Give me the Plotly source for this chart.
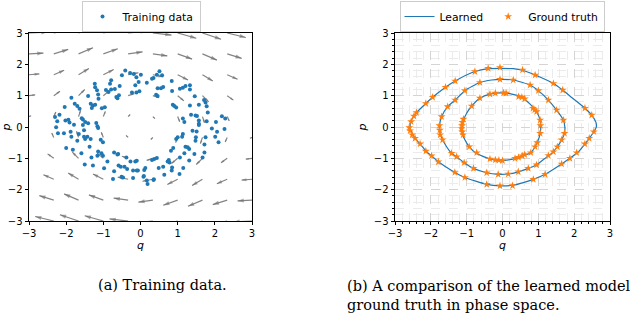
import numpy as np
import plotly.graph_objects as go

# ---------------- data ----------------
# Training data (phase-space samples)
train_q = [-0.41, -0.50, -0.28, -0.18, -0.11, -0.14, -0.23, -0.11, -0.56, -0.79, -0.82, -0.79, -0.86, -0.65, -0.58,
           -1.23, -1.22, -1.17, -1.14, -1.13, -1.34, -1.28, -1.22, -1.31, -1.41, -1.86, -1.77, -1.70, -1.64, -2.04,
           -2.18, -2.24, -2.02, -1.91, -1.79, -1.55, -1.49, -1.41, -1.19, -1.16, -2.30, -1.94, -1.58, -1.04, -0.96,
           -0.93, -0.69, -0.62,
           0.51, 0.44, 0.35, 0.31, 0.01, -0.05, 0.17, 0.58, 0.84, 0.61, 0.55, 0.46, 0.85, 1.06, 1.14, 1.21, 1.33,
           1.33, -0.03, 0.42, 0.46, 0.87, 0.91, 0.96, 1.33, 1.46, 1.57, 1.75, 1.78, 1.81, 1.36, 1.48, 1.52, 1.57,
           1.57, 1.78, 2.03, 2.19, 2.28, 1.14, 1.18, 1.71, 2.06,
           -2.27, -2.22, -2.06, -1.86, -2.00, -1.82, -1.70, -1.66, -1.52, -1.52, -1.49, -1.43, -1.34, -1.37, -1.59,
           -1.32, -1.16, -1.14, -1.05, -1.01, -1.07, -1.01, -1.14, -1.55, -1.50, -1.28, -0.89, -0.71, -0.62, -0.38,
           -0.27, -0.14, -0.36, -0.53, -0.59, -0.43, -0.71, -0.20, -0.07, -0.74, -0.47, -0.20, -1.88, -0.98, -0.51,
           -0.60, -0.10,
           1.57, 1.40, 1.51, 1.49, 1.48, 1.75, 1.92, 2.26, 2.01, 2.10, 1.72, 1.72, 1.67, 1.45, 1.31, 1.27, 1.21, 1.18,
           1.06, 0.88, 0.82, 1.14, 1.12, 1.00, 0.96, 0.76, 0.78, 0.73, 0.85, 1.15, 1.05, 1.31, 0.44, 0.37, 0.31, 0.61,
           0.49, 0.64, 0.13, 0.10, 0.08, 0.17, 0.19, 0.35, -0.10, 0.09, 0.36, 0.84]
train_p = [1.80, 1.65, 1.72, 1.69, 1.59, 1.33, 1.10, 1.10, 1.31, 1.49, 1.38, 1.20, 1.12, 0.96, 1.01,
           1.38, 1.27, 1.17, 1.04, 0.90, 0.74, 0.69, 0.71, 0.61, 0.99, 0.93, 0.74, 0.67, 0.58, 0.64,
           0.39, 0.18, 0.21, 0.14, 0.07, 0.24, 0.16, 0.12, 0.13, 0.02, 0.32, 0.23, 0.28, 0.60, 0.63,
           1.18, 1.21, 0.92,
           1.78, 1.67, 1.56, 1.54, 1.67, 1.44, 1.41, 1.65, 1.47, 1.28, 1.24, 1.24, 1.15, 1.22, 1.25, 1.31, 1.33,
           1.20, 1.14, 1.03, 0.99, 0.71, 0.67, 0.62, 0.69, 0.98, 0.71, 0.78, 0.66, 0.46, 0.39, 0.37, 0.35, 0.21,
           0.10, 0.18, 0.16, 0.34, 0.27, 0.27, 0.16, 0.86, -0.15,
           -0.01, -0.20, -0.20, -0.31, -0.67, -0.73, -0.44, -0.22, -0.10, -0.31, -0.38, -0.31, -0.38, -0.63, -0.84,
           -0.97, -0.92, -0.78, -0.84, -0.92, -0.41, -0.49, -0.03, 0.06, -1.20, -1.23, -1.10, -0.81, -0.88, -0.97,
           -1.10, -1.10, -1.34, -1.27, -1.23, -1.27, -1.41, -1.39, -1.39, -1.66, -1.61, -1.63, -0.15, -1.32, -1.59,
           -0.86, -1.08,
           0.06, -0.12, -0.14, -0.33, -0.44, -0.33, -0.05, -0.06, -0.31, -0.49, -0.56, -0.81, -0.97, -0.86, -0.70,
           -0.65, -0.63, -0.84, -0.97, -0.67, -0.76, -0.22, -0.31, -0.33, -0.38, -1.05, -1.13, -1.10, -1.29, -1.31,
           -1.50, -1.07, -0.99, -1.02, -1.05, -1.27, -1.31, -1.52, -1.31, -1.37, -1.59, -1.71, -1.82, -1.69, -1.39,
           -1.56, -1.67, -1.39]

# Vector field (quiver) sampled on a grid
grid_q = [-3.0, -2.333, -1.667, -1.0, -0.333, 0.333, 1.0, 1.667, 2.333, 3.0]
grid_p = [-3.0, -2.333, -1.667, -1.0, -0.333, 0.333, 1.0, 1.667, 2.333, 3.0]
arrow_dq_by_row = [-3.0, -2.33, -1.67, -1.0, -0.33, 0.33, 1.0, 1.67, 2.33, 3.0]
arrow_dp_by_col = [0.14, 0.72, 1.0, 0.84, 0.33, -0.33, -0.84, -1.0, -0.72, -0.14]

# Learned trajectories (closed orbits)
outer_q = [-2.58, -2.56, -2.47, -2.40, -2.14, -1.95, -1.59, -1.32, -0.77, -0.40, -0.05, 0.30, 0.56, 0.91, 1.42,
           1.68, 1.88, 2.30, 2.49, 2.61, 2.62, 2.55, 2.42, 2.30, 2.12, 1.88, 1.65, 1.19, 0.86, 0.28, -0.07,
           -0.44, -1.05, -1.33, -1.79, -1.98, -2.12, -2.30, -2.44, -2.56, -2.58]
outer_p = [0.0, 0.17, 0.35, 0.46, 0.75, 0.95, 1.27, 1.47, 1.77, 1.86, 1.87, 1.86, 1.81, 1.66, 1.39,
           1.18, 0.99, 0.60, 0.38, 0.14, 0.0, -0.15, -0.36, -0.54, -0.79, -1.00, -1.18, -1.51, -1.67, -1.86, -1.88,
           -1.83, -1.61, -1.45, -1.11, -0.92, -0.79, -0.54, -0.36, -0.10, 0.0]
middle_q = [-1.76, -1.70, -1.53, -1.32, -1.05, -0.63, -0.30, -0.05, 0.30, 0.77, 1.00, 1.28, 1.51, 1.70, 1.74,
            1.73, 1.65, 1.53, 1.37, 1.22, 0.95, 0.72, 0.44, 0.16, -0.12, -0.44, -0.81, -1.07, -1.28, -1.42, -1.56,
            -1.67, -1.74, -1.76]
middle_p = [0.0, 0.33, 0.65, 0.86, 1.16, 1.42, 1.50, 1.52, 1.50, 1.34, 1.16, 0.86, 0.54, 0.22, 0.0,
            -0.20, -0.41, -0.63, -0.84, -0.97, -1.21, -1.32, -1.43, -1.50, -1.51, -1.46, -1.32, -1.14, -0.95, -0.84,
            -0.63, -0.41, -0.20, 0.0]
inner_q = [-1.14, -1.09, -1.00, -0.86, -0.63, -0.35, -0.05, 0.26, 0.54, 0.77, 0.95, 1.05, 1.07, 1.05, 1.00,
           0.91, 0.79, 0.58, 0.35, -0.07, -0.35, -0.76, -0.93, -1.05, -1.12, -1.14]
inner_p = [0.0, 0.22, 0.44, 0.67, 0.92, 1.05, 1.09, 1.05, 0.95, 0.73, 0.49, 0.22, 0.0, -0.20, -0.41,
           -0.63, -0.82, -0.92, -1.01, -1.07, -1.02, -0.82, -0.63, -0.41, -0.20, 0.0]

# Ground-truth samples along the trajectories
truth_q = [-0.40, -0.07, 0.56, 0.91, -0.77, -1.32, -1.59, -1.95, -2.14, -2.40, -2.47, -2.55, -2.60, -2.58, -2.52,
           -2.44, -2.30, -2.14, -1.98, -1.79, -1.33, -1.05, -0.44, -0.07, 0.28, 0.86, 1.19, 1.65, 1.88, 2.07, 2.30,
           2.42, 2.55, 1.42, 1.68, 2.30, 2.49,
           -0.63, -0.07, 0.30, 0.77, 1.00, 1.28, 1.51, 1.70, 1.73, -1.05, -1.32, -1.53, -1.70, -1.76, -1.75, -1.74,
           -1.67, -1.42, -1.28, -1.07, -0.81, -0.44, -0.12, 0.16, 0.44, 0.72, 0.95, 1.28, 1.42, 1.65, 1.53,
           -0.35, -0.20, 0.03, 0.10, 0.45, 0.54, 0.62, 0.85, 0.90, 0.95, 1.05, 1.06, 1.05, -1.09, -1.12, -1.13, -1.14,
           -1.12, -1.10, -0.86, -0.63, -0.35, -0.20, -0.10, 0.00, 0.35, 0.45, 0.55, 0.62, -0.72, -0.93, 0.79, 0.91,
           0.97]
truth_p = [1.87, 1.90, 1.82, 1.66, 1.77, 1.47, 1.27, 0.95, 0.75, 0.46, 0.35, 0.17, -0.02, -0.12, -0.25,
           -0.36, -0.54, -0.77, -0.92, -1.11, -1.45, -1.61, -1.83, -1.88, -1.87, -1.67, -1.51, -1.18, -1.00, -0.82, -0.54,
           -0.36, -0.15, 1.39, 1.18, 0.60, 0.38,
           1.42, 1.52, 1.50, 1.34, 1.16, 0.86, 0.54, 0.22, -0.20, 1.16, 0.86, 0.65, 0.33, 0.05, -0.10, -0.25,
           -0.41, -0.84, -0.95, -1.14, -1.32, -1.46, -1.51, -1.50, -1.43, -1.32, -1.21, -0.91, -0.79, -0.41, -0.63,
           1.05, 1.08, 1.09, 1.08, 0.97, 0.95, 0.90, 0.60, 0.55, 0.49, 0.22, 0.05, -0.20, 0.25, 0.15, 0.05, -0.05,
           -0.15, -0.25, 0.67, 0.92, -1.02, -1.05, -1.06, -1.07, -1.00, -0.97, -0.92, -0.88, -0.82, -0.63, -0.82, -0.63,
           -0.50]

# ---------------- figure ----------------
W, H = 640, 313
BLUE = "#1f77b4"
ORANGE = "#ff7f0e"
ARROW = "rgba(110,110,110,0.85)"

# subplot pixel boxes (left, right, top, bottom)
L1 = (29, 252)
L2 = (395, 610)
TOP, BOT = 33, 221

fig = go.Figure()

# quiver arrows built from the grid data
Qg, Pg = np.meshgrid(np.array(grid_q), np.array(grid_p))
U = np.repeat(np.array(arrow_dq_by_row)[:, None], len(grid_q), axis=1)
V = np.repeat(np.array(arrow_dp_by_col)[None, :], len(grid_p), axis=0)
px_per_unit = 6.2
sx = px_per_unit / ((L1[1] - L1[0]) / 6.0)
sy = px_per_unit / ((BOT - TOP) / 6.0)
HQ = Qg + U * sx
HP = Pg + V * sy
shaft_x, shaft_y = [], []
for tq, tp, hq, hp in zip(Qg.ravel(), Pg.ravel(), HQ.ravel(), HP.ravel()):
    shaft_x += [tq, hq, None]
    shaft_y += [tp, hp, None]
fig.add_trace(go.Scatter(x=shaft_x, y=shaft_y, mode="lines", line=dict(color=ARROW, width=1.2),
                         hoverinfo="skip", showlegend=False, xaxis="x", yaxis="y"))
angles = np.degrees(np.arctan2(U.ravel(), V.ravel()))
mag = np.hypot(U.ravel(), V.ravel())
head_sizes = np.clip(mag * 3.0, 2.0, 6.5)
fig.add_trace(go.Scatter(x=HQ.ravel(), y=HP.ravel(), mode="markers",
                         marker=dict(symbol="arrow", size=head_sizes, angle=angles, color=ARROW,
                                     line=dict(width=0)),
                         hoverinfo="skip", showlegend=False, xaxis="x", yaxis="y"))

fig.add_trace(go.Scatter(x=train_q, y=train_p, mode="markers", name="Training data",
                         marker=dict(color=BLUE, size=4), xaxis="x", yaxis="y", legend="legend"))

for i, (cq, cp) in enumerate([(outer_q, outer_p), (middle_q, middle_p), (inner_q, inner_p)]):
    fig.add_trace(go.Scatter(x=cq, y=cp, mode="lines", name="Learned", legendgroup="learned",
                             showlegend=(i == 0), line=dict(color=BLUE, width=1.2, shape="spline", smoothing=0.6),
                             xaxis="x2", yaxis="y2", legend="legend2"))
fig.add_trace(go.Scatter(x=truth_q, y=truth_p, mode="markers", name="Ground truth",
                         marker=dict(symbol="star", color=ORANGE, size=6, line=dict(width=0)),
                         xaxis="x2", yaxis="y2", legend="legend2"))

tickfont = dict(family="DejaVu Sans", size=10, color="black")
def axis(dom, title, grid=False, **kw):
    d = dict(domain=dom, range=[-3, 3], dtick=1, tick0=0, ticks="outside", ticklen=3.5, tickwidth=0.8,
             tickcolor="black", showline=True, linecolor="black", linewidth=0.8, mirror=True,
             zeroline=False, showgrid=grid, tickfont=tickfont, automargin=False,
             title=dict(text=title, font=dict(family="DejaVu Sans", size=11, color="black")))
    if grid:
        d.update(gridcolor="#d4d4d4", gridwidth=0.8, griddash="dash",
                 minor=dict(dtick=0.2, ticks="outside", ticklen=2, tickwidth=0.6, tickcolor="black",
                            showgrid=True, gridcolor="#ebebeb", gridwidth=0.6, griddash="dash"))
    d.update(kw)
    return d

ydom = [(H - BOT) / H, (H - TOP) / H]
legfont = dict(family="DejaVu Sans", size=10.8, color="black")
fig.update_layout(
    width=W, height=H, margin=dict(l=0, r=0, t=0, b=0, autoexpand=False),
    paper_bgcolor="white", plot_bgcolor="white",
    xaxis=axis([L1[0] / W, L1[1] / W], "<i>q</i>", anchor="y", title_standoff=2),
    yaxis=axis(ydom, "<i>p</i>", anchor="x", title_standoff=4),
    xaxis2=axis([L2[0] / W, L2[1] / W], "<i>q</i>", grid=True, anchor="y2", title_standoff=2),
    yaxis2=axis(ydom, "<i>p</i>", grid=True, anchor="x2", title_standoff=4),
    legend=dict(x=141 / W, y=1 - 1 / H, xanchor="center", yanchor="top", orientation="h",
                bordercolor="#cccccc", borderwidth=1, bgcolor="white", font=legfont),
    legend2=dict(x=502 / W, y=1 - 1 / H, xanchor="center", yanchor="top", orientation="h",
                 bordercolor="#cccccc", borderwidth=1, bgcolor="white", font=legfont),
    showlegend=True,
)

capfont = dict(family="DejaVu Serif", size=14.5, color="black")
fig.add_annotation(text="(a) Training data.", xref="paper", yref="paper", x=162 / W, y=1 - 285 / H,
                   xanchor="center", yanchor="middle", showarrow=False, font=capfont)
fig.add_annotation(text="(b) A comparison of the learned model<br>ground truth in phase space.",
                   xref="paper", yref="paper", x=345 / W, y=1 - 295 / H, xanchor="left", yanchor="middle",
                   align="left", showarrow=False, font=capfont)

fig.write_html("out.html", config={"displayModeBar": False},
               post_script="document.body.style.margin='0';document.body.style.padding='0';"
                           "document.documentElement.style.overflow='hidden';")
